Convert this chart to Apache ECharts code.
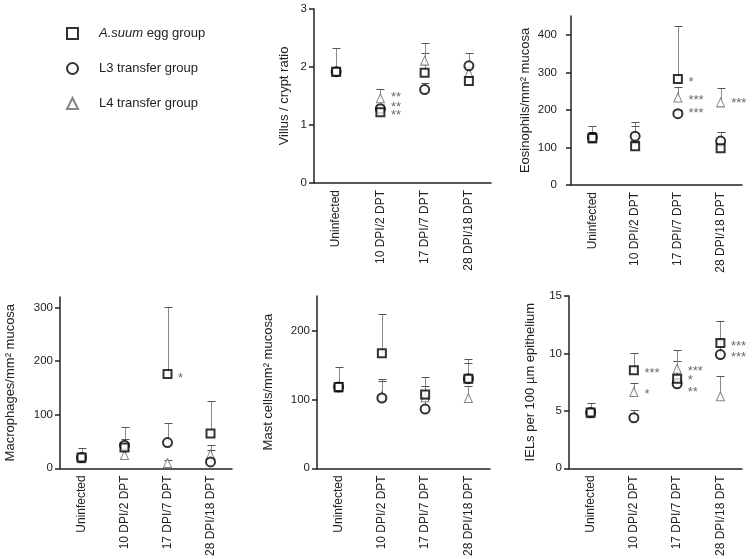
<!DOCTYPE html>
<html><head><meta charset="utf-8">
<script src="https://cdn.jsdelivr.net/npm/echarts@6/dist/echarts.min.js"></script>
<style>html,body{margin:0;padding:0;background:#fff}#c{width:754px;height:559px}</style>
</head><body><div id="c"></div>
<script>
const categories = ['Uninfected', '10 DPI/2 DPT', '17 DPI/7 DPT', '28 DPI/18 DPT'];
const groupNames = ['A.suum egg group', 'L3 transfer group', 'L4 transfer group'];

// Villus / crypt ratio
const villusEgg = [1.92, 1.22, 1.90, 1.76];
const villusEggUpper = [2.33, 1.30, 2.25, 1.85];
const villusL3 = [1.92, 1.28, 1.61, 2.02];
const villusL3Upper = [2.00, 1.35, 1.72, 2.25];
const villusL4 = [1.92, 1.46, 2.11, 1.90];
const villusL4Upper = [1.98, 1.62, 2.42, 2.00];
const villusStars = [[1, 1.52, '**'], [1, 1.36, '**'], [1, 1.22, '**']];

// Eosinophils/mm2 mucosa
const eosEgg = [125, 103, 282, 98];
const eosEggUpper = [157, 115, 423, 141];
const eosL3 = [127, 130, 190, 117];
const eosL3Upper = [140, 167, 200, 141];
const eosL4 = [123, 128, 233, 220];
const eosL4Upper = [135, 157, 262, 258];
const eosStars = [[2, 281, '*'], [2, 233, '***'], [2, 198, '***'], [3, 224, '***']];

// Macrophages/mm2 mucosa
const macEgg = [20, 39, 176, 65];
const macEggUpper = [37, 77, 302, 125];
const macL3 = [20, 43, 48, 12];
const macL3Upper = [28, 55, 85, 43];
const macL4 = [19, 25, 10, 26];
const macL4Upper = [25, 35, 15, 35];
const macStars = [[2, 173, '*']];

// Mast cells/mm2 mucosa
const mastEgg = [118, 167, 107, 130];
const mastEggUpper = [147, 224, 132, 158];
const mastL3 = [118, 102, 86, 130];
const mastL3Upper = [125, 129, 100, 153];
const mastL4 = [117, 105, 103, 102];
const mastL4Upper = [125, 127, 120, 120];
const mastStars = [];

// IELs per 100 µm epithelium
const ielEgg = [4.85, 8.53, 7.80, 10.90];
const ielEggUpper = [5.70, 10.05, 9.30, 12.80];
const ielL3 = [4.85, 4.40, 7.35, 9.90];
const ielL3Upper = [5.20, 5.05, 7.90, 11.20];
const ielL4 = [4.80, 6.65, 8.67, 6.27];
const ielL4Upper = [5.10, 7.40, 10.30, 8.05];
const ielStars = [[1, 8.53, '***'], [1, 6.65, '*'], [2, 8.67, '***'], [2, 7.92, '*'], [2, 6.91, '**'], [3, 10.90, '***'], [3, 9.91, '***']];

const panels = [
  {name: 'Villus / crypt ratio', max: 3, interval: 1, ticks: [0, 1, 2, 3],
   groups: [[villusEgg, villusEggUpper], [villusL3, villusL3Upper], [villusL4, villusL4Upper]], stars: villusStars,
   grid: {left: 314, top: 9, width: 177, height: 174}, nameGap: 23, labelMargin: 7},
  {name: 'Eosinophils/mm\u00B2 mucosa', max: 450, interval: 100, ticks: [0, 100, 200, 300, 400],
   groups: [[eosEgg, eosEggUpper], [eosL3, eosL3Upper], [eosL4, eosL4Upper]], stars: eosStars,
   grid: {left: 571, top: 16, width: 171, height: 169}, nameGap: 39, labelMargin: 14},
  {name: 'Macrophages/mm\u00B2 mucosa', max: 320, interval: 100, ticks: [0, 100, 200, 300],
   groups: [[macEgg, macEggUpper], [macL3, macL3Upper], [macL4, macL4Upper]], stars: macStars,
   grid: {left: 60, top: 297, width: 172, height: 172}, nameGap: 43, labelMargin: 7},
  {name: 'Mast cells/mm\u00B2 mucosa', max: 250, interval: 100, ticks: [0, 100, 200],
   groups: [[mastEgg, mastEggUpper], [mastL3, mastL3Upper], [mastL4, mastL4Upper]], stars: mastStars,
   grid: {left: 317, top: 296, width: 173, height: 173}, nameGap: 42, labelMargin: 7},
  {name: 'IELs per 100 \u00B5m epithelium', max: 15, interval: 5, ticks: [0, 5, 10, 15],
   groups: [[ielEgg, ielEggUpper], [ielL3, ielL3Upper], [ielL4, ielL4Upper]], stars: ielStars,
   grid: {left: 569, top: 296, width: 173, height: 173}, nameGap: 32, labelMargin: 7}
];

const FONT = 'Liberation Sans, Arial, sans-serif';
const AX = '#222';
const markerStyles = [
  {symbol: 'rect', symbolSize: 8, itemStyle: {color: '#fff', borderColor: '#000', borderWidth: 2}},
  {symbol: 'circle', symbolSize: 9, itemStyle: {color: '#fff', borderColor: '#000', borderWidth: 2}},
  {symbol: 'triangle', symbolSize: [8, 9], itemStyle: {color: '#fff', borderColor: '#666', borderWidth: 1}}
];

function renderErr(params, api) {
  const x = api.value(0);
  const p0 = api.coord([x, api.value(1)]);
  const p1 = api.coord([x, api.value(2)]);
  const cx = Math.round(p0[0]) + 0.5;
  const ty = Math.round(p1[1]) + 0.5;
  return {type: 'group', children: [
    {type: 'line', shape: {x1: cx, y1: p0[1], x2: cx, y2: ty}, style: {stroke: '#8a8a8a', lineWidth: 1}},
    {type: 'line', shape: {x1: cx - 4, y1: ty, x2: cx + 4, y2: ty}, style: {stroke: '#555', lineWidth: 1}}
  ]};
}

const grids = [], xAxes = [], yAxes = [], series = [];
panels.forEach((p, i) => {
  grids.push(p.grid);
  xAxes.push({type: 'category', gridIndex: i, data: categories,
    axisLine: {lineStyle: {color: AX, width: 1.5}},
    axisTick: {alignWithLabel: true, length: 5, lineStyle: {color: AX, width: 1.5}},
    axisLabel: {rotate: 90, interval: 0, fontSize: 12, color: AX, margin: 7, fontFamily: FONT}});
  yAxes.push({type: 'value', gridIndex: i, min: 0, max: p.max, interval: p.interval,
    name: p.name, nameLocation: 'middle', nameGap: p.nameGap,
    nameTextStyle: {fontSize: 13, color: AX, fontFamily: FONT},
    axisLine: {show: true, lineStyle: {color: AX, width: 1.5}},
    axisTick: {show: true, length: 5, customValues: p.ticks, lineStyle: {color: AX, width: 1.5}},
    axisLabel: {fontSize: 11.5, color: AX, margin: p.labelMargin, customValues: p.ticks, fontFamily: FONT},
    splitLine: {show: false}});
  p.groups.forEach((g, k) => {
    series.push({type: 'custom', name: groupNames[k] + ' error', xAxisIndex: i, yAxisIndex: i, z: 2,
      renderItem: renderErr, encode: {x: 0, y: [1, 2]},
      data: g[0].map((v, j) => [j, v, g[1][j]])});
  });
  [2, 1, 0].forEach(k => {
    const g = p.groups[k];
    series.push(Object.assign({type: 'scatter', name: groupNames[k], xAxisIndex: i, yAxisIndex: i, z: 3 + (2 - k),
      data: g[0].map((v, j) => [j, v])}, JSON.parse(JSON.stringify(markerStyles[k]))));
  });
  series.push({type: 'scatter', name: 'significance', xAxisIndex: i, yAxisIndex: i, z: 6,
    symbol: 'circle', symbolSize: 1, itemStyle: {color: 'rgba(0,0,0,0)'}, silent: true,
    label: {show: true, position: 'right', distance: 10, offset: [0, 3], color: '#444', fontSize: 13,
      fontFamily: FONT, formatter: d => d.value[2]},
    data: p.stars});
});

const chart = echarts.init(document.getElementById('c'), null, {renderer: 'canvas'});
chart.setOption({
  animation: false,
  backgroundColor: '#fff',
  textStyle: {fontFamily: FONT},
  legend: {data: groupNames, orient: 'vertical', left: 66, top: 27, padding: 0, itemGap: 22,
    itemWidth: 11, itemHeight: 11, selectedMode: false,
    textStyle: {fontSize: 13, color: AX, fontFamily: FONT, padding: [0, 0, 0, 16],
      rich: {i: {fontStyle: 'italic', fontSize: 13, color: AX, fontFamily: FONT}}},
    formatter: n => n === 'A.suum egg group' ? '{i|A.suum} egg group' : n},
  grid: grids, xAxis: xAxes, yAxis: yAxes, series: series
});
</script></body></html>
